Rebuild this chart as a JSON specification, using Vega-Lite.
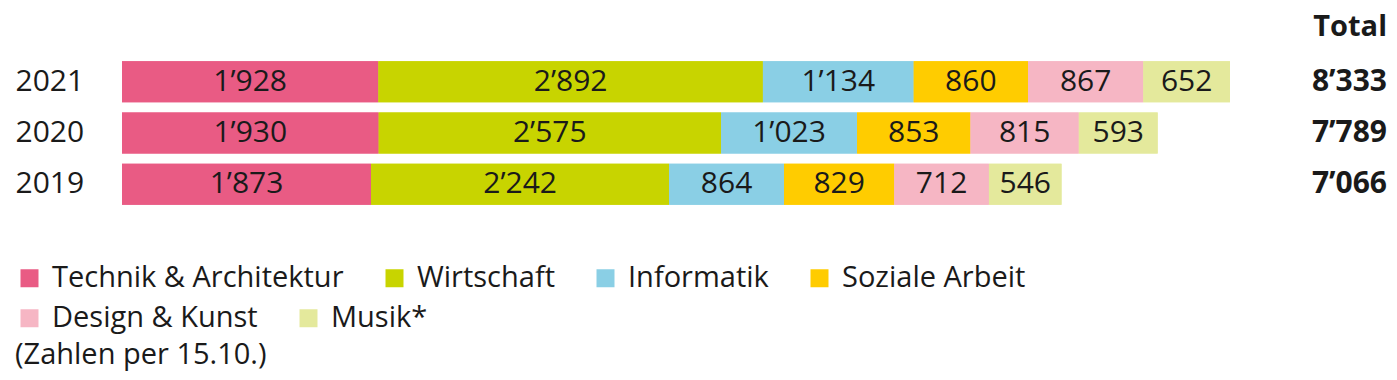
{
  "$schema": "https://vega.github.io/schema/vega-lite/v6.json",
  "autosize": {"type": "none"},
  "padding": {"left": 122, "top": 56, "right": 10, "bottom": 170},
  "width": 1265,
  "height": 154,
  "background": "white",
  "title": {"text": "Total", "anchor": "end", "frame": "group", "fontSize": 29, "fontWeight": "bold", "font": "Open Sans", "color": "#1a1a1a", "baseline": "alphabetic", "offset": -9},
  "config": {
    "view": {"stroke": null},
    "font": "Open Sans",
    "legend": {"padding": 0, "symbolType": "square", "symbolSize": 324, "symbolStrokeWidth": 0, "symbolOpacity": 1,
      "labelFontSize": 29, "labelFont": "Open Sans", "labelColor": "#1a1a1a", "labelOffset": 8, "columnPadding": 36, "labelLimit": 500,
      "titleFontSize": 29, "titleFontWeight": "normal", "titleFont": "Open Sans", "titleColor": "#1a1a1a", "titleLimit": 600},
    "locale": {"number": {"decimal": ".", "thousands": "’", "grouping": [3], "currency": ["", ""]}}
  },
  "data": {"values": [
    {"year": "2021", "cat": "Technik & Architektur", "k": 1, "value": 1928},
    {"year": "2021", "cat": "Wirtschaft", "k": 2, "value": 2892},
    {"year": "2021", "cat": "Informatik", "k": 3, "value": 1134},
    {"year": "2021", "cat": "Soziale Arbeit", "k": 4, "value": 860},
    {"year": "2021", "cat": "Design & Kunst", "k": 5, "value": 867},
    {"year": "2021", "cat": "Musik*", "k": 6, "value": 652},
    {"year": "2020", "cat": "Technik & Architektur", "k": 1, "value": 1930},
    {"year": "2020", "cat": "Wirtschaft", "k": 2, "value": 2575},
    {"year": "2020", "cat": "Informatik", "k": 3, "value": 1023},
    {"year": "2020", "cat": "Soziale Arbeit", "k": 4, "value": 853},
    {"year": "2020", "cat": "Design & Kunst", "k": 5, "value": 815},
    {"year": "2020", "cat": "Musik*", "k": 6, "value": 593},
    {"year": "2019", "cat": "Technik & Architektur", "k": 1, "value": 1873},
    {"year": "2019", "cat": "Wirtschaft", "k": 2, "value": 2242},
    {"year": "2019", "cat": "Informatik", "k": 3, "value": 864},
    {"year": "2019", "cat": "Soziale Arbeit", "k": 4, "value": 829},
    {"year": "2019", "cat": "Design & Kunst", "k": 5, "value": 712},
    {"year": "2019", "cat": "Musik*", "k": 6, "value": 546}
  ]},
  "encoding": {
    "y": {"field": "year", "type": "nominal", "sort": ["2021", "2020", "2019"],
      "scale": {"paddingInner": 0.2, "paddingOuter": 0.1},
      "axis": {"title": null, "ticks": false, "domain": false, "labelAlign": "left", "labelPadding": 107, "labelFontSize": 30, "labelFont": "Open Sans", "labelColor": "#1a1a1a", "labelBaseline": "middle"}}
  },
  "layer": [
    {
      "mark": {"type": "bar"},
      "encoding": {
        "x": {"field": "value", "type": "quantitative", "stack": "zero", "scale": {"domain": [0, 9514], "nice": false, "zero": true}, "axis": null},
        "order": {"field": "k", "type": "quantitative"},
        "color": {"field": "cat", "type": "nominal",
          "scale": {"domain": ["Technik & Architektur", "Wirtschaft", "Informatik", "Soziale Arbeit", "Design & Kunst", "Musik*"],
                    "range": ["#E95B84", "#C8D400", "#8ACFE5", "#FFCC00", "#F6B6C4", "#E4E99C"]},
          "legend": {"orient": "none", "legendX": -107, "legendY": 207.5, "direction": "horizontal", "columns": 4, "title": null,
            "values": ["Technik & Architektur", "Wirtschaft", "Informatik", "Soziale Arbeit"]}}
      }
    },
    {
      "mark": {"type": "bar"},
      "encoding": {
        "x": {"field": "value", "type": "quantitative", "stack": "zero"},
        "order": {"field": "k", "type": "quantitative"},
        "fill": {"field": "cat", "type": "nominal",
          "scale": {"domain": ["Design & Kunst", "Musik*", "Technik & Architektur", "Wirtschaft", "Informatik", "Soziale Arbeit"],
                    "range": ["#F6B6C4", "#E4E99C", "#E95B84", "#C8D400", "#8ACFE5", "#FFCC00"]},
          "legend": {"orient": "none", "legendX": -107, "legendY": 247.5, "direction": "horizontal", "columns": 2,
            "title": "(Zahlen per 15.10.)", "titleOrient": "bottom", "titleAnchor": "start", "titlePadding": 7,
            "values": ["Design & Kunst", "Musik*"]}}
      }
    },
    {
      "mark": {"type": "text", "fontSize": 30, "color": "#1a1a1a", "baseline": "middle", "align": "center"},
      "encoding": {
        "x": {"field": "value", "type": "quantitative", "stack": "zero", "bandPosition": 0.5},
        "order": {"field": "k", "type": "quantitative"},
        "detail": {"field": "cat"},
        "text": {"field": "value", "type": "quantitative", "format": ",d"}
      }
    },
    {
      "mark": {"type": "text", "fontSize": 30, "fontWeight": "bold", "color": "#1a1a1a", "baseline": "middle", "align": "right"},
      "encoding": {
        "x": {"datum": 9514, "type": "quantitative"},
        "text": {"aggregate": "sum", "field": "value", "type": "quantitative", "format": ",d"}
      }
    }
  ]
}
